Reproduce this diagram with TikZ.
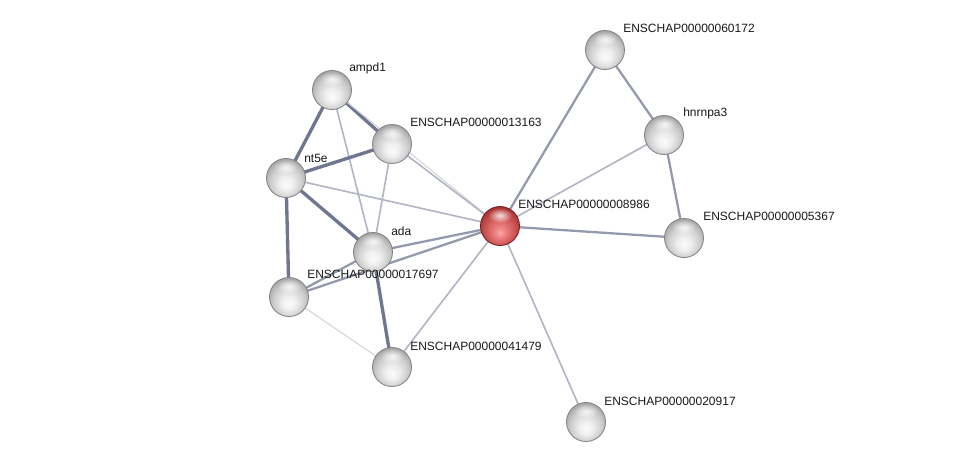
\documentclass[tikz,border=0pt]{standalone}
\usepackage{fontspec}
\setmainfont{Liberation Sans}
\usetikzlibrary{fadings}
\tikzfading[name=softhl, inner color=transparent!0, outer color=transparent!100]
\definecolor{edgecol}{RGB}{98,106,134}
\definecolor{gA}{RGB}{252,252,252}
\definecolor{gB}{RGB}{238,238,238}
\definecolor{gC}{RGB}{205,205,205}
\definecolor{gD}{RGB}{160,160,160}
\definecolor{gE}{RGB}{120,120,120}
\definecolor{rA}{RGB}{250,165,165}
\definecolor{rB}{RGB}{232,120,120}
\definecolor{rC}{RGB}{200,80,80}
\definecolor{rD}{RGB}{160,45,45}
\definecolor{rE}{RGB}{120,25,25}
\pgfdeclareradialshading{graysphere}{\pgfpoint{0bp}{-9bp}}{color(0bp)=(gA); color(9bp)=(gB); color(20bp)=(gC); color(30bp)=(gD); color(36bp)=(gE); color(50bp)=(gE)}
\pgfdeclareradialshading{redsphere}{\pgfpoint{0bp}{-9bp}}{color(0bp)=(rA); color(9bp)=(rB); color(20bp)=(rC); color(30bp)=(rD); color(36bp)=(rE); color(50bp)=(rE)}
\tikzset{
  prot/.style={circle, minimum size=29.25pt, inner sep=0pt, shading=graysphere, draw=black!50, line width=0.6pt},
  protred/.style={prot, shading=redsphere, draw={rgb,255:red,115;green,25;blue,25}},
  lbl/.style={anchor=west, inner sep=0pt, font=\fontsize{9pt}{10pt}\selectfont, text=black!90},
  e0/.style={line width=0.8pt, draw=edgecol!28},
  e1/.style={line width=1.2pt, draw=edgecol!50},
  e2/.style={line width=1.7pt, draw=edgecol!68},
  e3/.style={line width=2.5pt, draw=edgecol!92},
}
\newcommand{\hilite}[1]{\fill[white, opacity=0.8, path fading=softhl] ([yshift=8pt]#1.center) ellipse (9pt and 5.5pt);}
\begin{document}
\begin{tikzpicture}[x=0.75pt, y=-0.75pt]
\useasboundingbox (0,0) rectangle (975,468);
\fill[white] (0,0) rectangle (975,468);
% coordinates
\coordinate (p60172) at (605,50);
\coordinate (pampd1) at (332,90);
\coordinate (p13163) at (392,144);
\coordinate (phnrnpa3) at (664,135);
\coordinate (pnt5e) at (286,178);
\coordinate (p8986) at (500,226);
\coordinate (p5367) at (684,238);
\coordinate (pada) at (373,252);
\coordinate (p17697) at (289,297);
\coordinate (p41479) at (392,367);
\coordinate (p20917) at (586,422);
% edges
\draw[e3] (pampd1) -- (pnt5e);
\draw[e3] (pampd1) -- (p13163);
\draw[e1] (pampd1) -- (pada);
\draw[e0] (pampd1) -- (p8986);
\draw[e3] (pnt5e) -- (p13163);
\draw[e1] (pnt5e) -- (p8986);
\draw[e3] (pnt5e) -- (pada);
\draw[e3] (pnt5e) -- (p17697);
\draw[e1] (p13163) -- (pada);
\draw[e1] (p13163) -- (p8986);
\draw[e2] (pada) -- (p8986);
\draw[e2] (pada) -- (p17697);
\draw[e3] (pada) -- (p41479);
\draw[e2] (p17697) -- (p8986);
\draw[e0] (p17697) -- (p41479);
\draw[e1] (p41479) -- (p8986);
\draw[e1] (p8986) -- (p20917);
\draw[e2] (p8986) -- (p60172);
\draw[e1] (p8986) -- (phnrnpa3);
\draw[e2] (p8986) -- (p5367);
\draw[e2] (p60172) -- (phnrnpa3);
\draw[e2] (phnrnpa3) -- (p5367);
% nodes
\node[prot] (n60172) at (p60172) {};
\node[prot] (nampd1) at (pampd1) {};
\node[prot] (n13163) at (p13163) {};
\node[prot] (nhnrnpa3) at (phnrnpa3) {};
\node[prot] (nnt5e) at (pnt5e) {};
\node[protred] (n8986) at (p8986) {};
\node[prot] (n5367) at (p5367) {};
\node[prot] (nada) at (pada) {};
\node[prot] (n17697) at (p17697) {};
\node[prot] (n41479) at (p41479) {};
\node[prot] (n20917) at (p20917) {};
\hilite{n60172}\hilite{nampd1}\hilite{n13163}\hilite{nhnrnpa3}\hilite{nnt5e}\hilite{n8986}
\hilite{n5367}\hilite{nada}\hilite{n17697}\hilite{n41479}\hilite{n20917}
% labels
\node[lbl] (l60172) at ([shift={(18,-22)}]p60172) {ENSCHAP00000060172};
\node[lbl] (lampd1) at ([shift={(17,-22)}]pampd1) {ampd1};
\node[lbl] (l13163) at ([shift={(18,-22)}]p13163) {ENSCHAP00000013163};
\node[lbl] (lhnrnpa3) at ([shift={(19,-22)}]phnrnpa3) {hnrnpa3};
\node[lbl] (lnt5e) at ([shift={(18,-20)}]pnt5e) {nt5e};
\node[lbl] (l8986) at ([shift={(18,-22)}]p8986) {ENSCHAP00000008986};
\node[lbl] (l5367) at ([shift={(19,-22)}]p5367) {ENSCHAP00000005367};
\node[lbl] (lada) at ([shift={(18,-21)}]pada) {ada};
\node[lbl] (l17697) at ([shift={(18,-23)}]p17697) {ENSCHAP00000017697};
\node[lbl] (l41479) at ([shift={(18,-21)}]p41479) {ENSCHAP00000041479};
\node[lbl] (l20917) at ([shift={(18,-21)}]p20917) {ENSCHAP00000020917};
\end{tikzpicture}
\end{document}
